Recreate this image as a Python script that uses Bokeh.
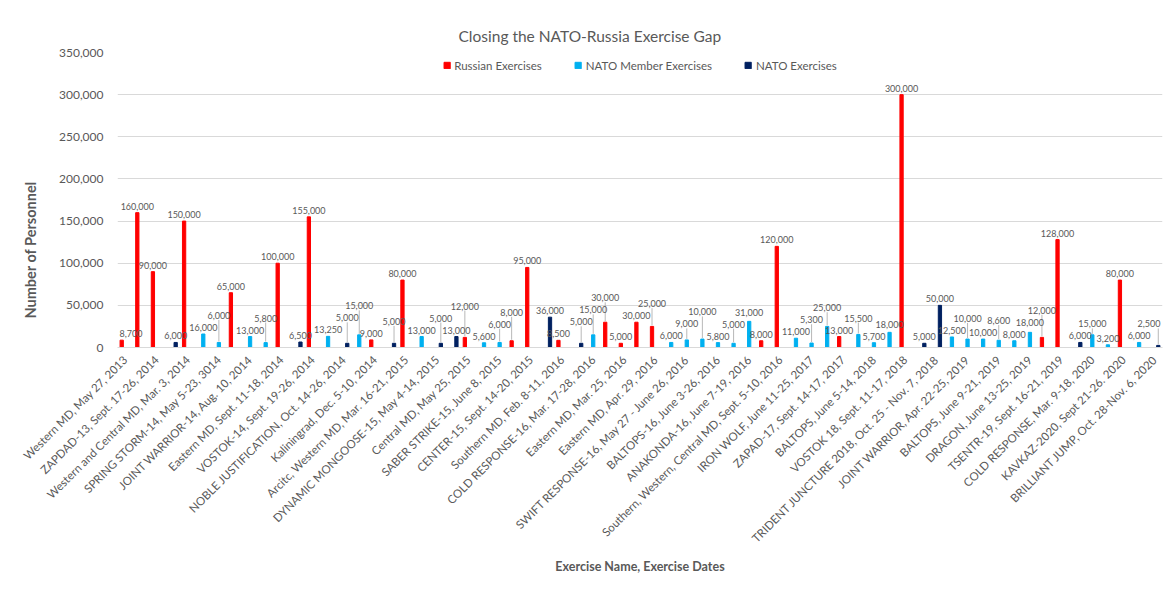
import math
from bokeh.plotting import figure
from bokeh.models import (ColumnDataSource, Range1d, FixedTicker, NumeralTickFormatter,
                          Legend, LegendItem, LabelSet, Title)
from bokeh.core.properties import value
from bokeh.embed import file_html
from bokeh.resources import INLINE

title_text = "Closing the NATO-Russia Exercise Gap"
y_title = "Number of Personnel"
x_title = "Exercise Name, Exercise Dates"
series_names = ["Russian Exercises", "NATO Member Exercises", "NATO Exercises"]

# labels shown on the axis (every second exercise)
tick_labels = [
    "Western MD, May 27, 2013",
    "ZAPDAD-13, Sept. 17-26, 2014",
    "Western and Central MD, Mar. 3, 2014",
    "SPRING STORM-14, May 5-23, 3014",
    "JOINT WARRIOR-14, Aug. 10, 2014",
    "Eastern MD, Sept. 11-18, 2014",
    "VOSTOK-14, Sept. 19-26, 2014",
    "NOBLE JUSTIFICATION, Oct. 14-26, 2014",
    "Kaliningrad, Dec. 5-10, 2014",
    "Arcitc, Western MD, Mar. 16-21, 2015",
    "DYNAMIC MONGOOSE-15, May 4-14, 2015",
    "Central MD, May 25, 2015",
    "SABER STRIKE-15, June 8, 2015",
    "CENTER-15, Sept. 14-20, 2015",
    "Southern MD, Feb. 8-11, 2016",
    "COLD RESPONSE-16, Mar. 17-28, 2016",
    "Eastern MD, Mar. 25, 2016",
    "Eastern MD, Apr. 29, 2016",
    "SWIFT RESPONSE-16, May 27 - June 26, 2016",
    "BALTOPS-16, June 3-26, 2016",
    "ANAKONDA-16, June 7-19, 2016",
    "Southern, Western, Central MD, Sept. 5-10, 2016",
    "IRON WOLF, June 11-25, 2017",
    "ZAPAD-17, Sept. 14-17, 2017",
    "BALTOPS, June 5-14, 2018",
    "VOSTOK 18, Sept. 11-17, 2018",
    "TRIDENT JUNCTURE 2018, Oct. 25 - Nov. 7, 2018",
    "JOINT WARRIOR, Apr. 22-25, 2019",
    "BALTOPS, June 9-21, 2019",
    "DRAGON, June 13-25, 2019",
    "TSENTR-19, Sept. 16-21, 2019",
    "COLD RESPONSE, Mar. 9-18, 2020",
    "KAVKAZ-2020, Sept 21-26. 2020",
    "BRILLIANT JUMP, Oct. 28-Nov. 6, 2020",
]

N_ = None
russian = [
    8700, 160000, 90000, N_, 150000, N_, N_, 65000, N_, N_,
    100000, N_, 155000, N_, N_, N_, 9000, N_, 80000, N_,
    N_, N_, 12000, N_, N_, 8000, 95000, N_, 8500, N_,
    N_, 30000, 5000, 30000, 25000, N_, N_, N_, N_, N_,
    N_, 8000, 120000, N_, N_, N_, 13000, N_, N_, N_,
    300000, N_, N_, N_, N_, N_, N_, N_, N_, 12000,
    128000, N_, N_, N_, 80000, N_, N_,
]
nato_member = [
    N_, N_, N_, N_, N_, 16000, 6000, N_, 13000, 5800,
    N_, N_, N_, 13250, N_, 15000, N_, N_, N_, 13000,
    N_, N_, N_, 5600, 6000, N_, N_, N_, N_, N_,
    15000, N_, N_, N_, N_, 6000, 9000, 10000, 5800, 5000,
    31000, N_, N_, 11000, 5300, 25000, N_, 15500, 5700, 18000,
    N_, N_, N_, 12500, 10000, 10000, 8600, 8000, 18000, N_,
    N_, N_, 15000, 3200, N_, 6000, N_,
]
nato = [
    N_, N_, N_, 6000, N_, N_, N_, N_, N_, N_,
    N_, 6500, N_, N_, 5000, N_, N_, 5000, N_, N_,
    5000, 13000, N_, N_, N_, N_, N_, 36000, N_, 5000,
    N_, N_, N_, N_, N_, N_, N_, N_, N_, N_,
    N_, N_, N_, N_, N_, N_, N_, N_, N_, N_,
    N_, 5000, 50000, N_, N_, N_, N_, N_, N_, N_,
    N_, 6000, N_, N_, N_, N_, 2500,
]

colors = ["#FF0000", "#00B0F0", "#002060"]
offsets = [-0.23, 0.0, 0.23]
GRAY = "#595959"
FONT = "Lato"

n = len(russian)
FW, FH = 1045, 295
FL, FR, FT, FB = 117, 7, 52, 200
YMAX = 350000
PX_X = FW / n
PX_Y = FH / YMAX
XMIN, XMAX = -0.5, n - 0.5

p = figure(frame_width=FW, frame_height=FH, x_range=Range1d(XMIN, XMAX), y_range=Range1d(0, YMAX),
           output_backend="svg", toolbar_location=None,
           min_border_left=FL, min_border_right=FR, min_border_top=FT, min_border_bottom=FB)

p.title.text = title_text
p.title.align = "left"
p.title.offset = 341
p.title.text_font = FONT
p.title.text_font_size = "15.5px"
p.title.text_font_style = "normal"
p.title.text_color = GRAY
p.title.standoff = 16

renderers = []
bars = []
for vals, col, off in zip([russian, nato_member, nato], colors, offsets):
    xs = [k + off for k, v in enumerate(vals) if v is not None]
    tops = [v for v in vals if v is not None]
    src = ColumnDataSource(dict(x=xs, top=tops))
    r = p.vbar(x="x", top="top", width=0.21, color=col, source=src)
    renderers.append(r)
    bars += list(zip(xs, tops))

# data labels, lifted with leader lines where they would collide
bars.sort()
placed = []
lx, ly, lt = [], [], []
sx0, sy0, sy1 = [], [], []
LH = 11
for x, v in bars:
    txt = f"{v:,}"
    w = len(txt) * 4.6 + 2
    half = (w / 2 + 1) / PX_X
    xl = min(max(x, XMIN + half), XMAX - half)
    base0 = v * PX_Y + 3
    base = base0
    moved = True
    while moved:
        moved = False
        for (px, pb, pw) in placed:
            if abs(xl * PX_X - px) < (w + pw) / 2 and base < pb + LH and base + LH > pb:
                base = pb + LH + 1
                moved = True
    placed.append((xl * PX_X, base, w))
    lx.append(xl)
    ly.append(base / PX_Y)
    lt.append(txt)
    if base - base0 > 4:
        sx0.append(x)
        sy0.append((v * PX_Y + 1) / PX_Y)
        sy1.append((base - 1) / PX_Y)

p.segment(x0=sx0, y0=sy0, x1=sx0, y1=sy1, line_color="#A6A6A6", line_width=0.8)
lab_src = ColumnDataSource(dict(x=lx, y=ly, t=lt))
p.add_layout(LabelSet(x="x", y="y", text="t", source=lab_src, text_align="center",
                      text_baseline="bottom", text_font=value(FONT),
                      text_font_size=value("9px"), text_color=GRAY))

p.yaxis.ticker = FixedTicker(ticks=list(range(0, YMAX + 1, 50000)))
p.yaxis.formatter = NumeralTickFormatter(format="0,0")
p.yaxis.axis_line_color = None
p.yaxis.major_tick_line_color = None
p.yaxis.minor_tick_line_color = None
p.yaxis.major_label_text_font = FONT
p.yaxis.major_label_text_font_size = "12px"
p.yaxis.major_label_text_color = GRAY
p.yaxis.major_label_standoff = 8

p.xaxis.ticker = FixedTicker(ticks=list(range(0, n, 2)))
p.xaxis.major_label_overrides = {k: lab for k, lab in zip(range(0, n, 2), tick_labels)}
p.xaxis.major_label_orientation = math.pi / 4
p.xaxis.axis_line_color = "#D9D9D9"
p.xaxis.major_tick_line_color = None
p.xaxis.minor_tick_line_color = None
p.xaxis.major_label_text_font = FONT
p.xaxis.major_label_text_font_size = "11.5px"
p.xaxis.major_label_text_color = GRAY
p.xaxis.major_label_standoff = 4
p.xaxis.axis_label = x_title
p.xaxis.axis_label_text_font = FONT
p.xaxis.axis_label_text_font_size = "12.5px"
p.xaxis.axis_label_text_font_style = "bold"
p.xaxis.axis_label_text_color = GRAY
p.xaxis.axis_label_standoff = 7

p.xgrid.grid_line_color = None
p.ygrid.grid_line_color = "#D9D9D9"
p.outline_line_color = None

p.add_layout(Title(text=y_title, align="left", offset=29, text_font=FONT,
                   text_font_size="14.5px", text_font_style="bold", text_color=GRAY,
                   standoff=36), "left")

legend = Legend(items=[LegendItem(label=nm, renderers=[r]) for nm, r in zip(series_names, renderers)],
                orientation="horizontal", location="top_center", border_line_color=None,
                background_fill_alpha=0, label_text_font=FONT, label_text_font_size="11.5px",
                label_text_color=GRAY, glyph_width=8, glyph_height=8, label_height=14,
                spacing=32, label_standoff=4, padding=0, margin=6)
p.add_layout(legend, "center")

open("out.html", "w").write(file_html(p, INLINE))
